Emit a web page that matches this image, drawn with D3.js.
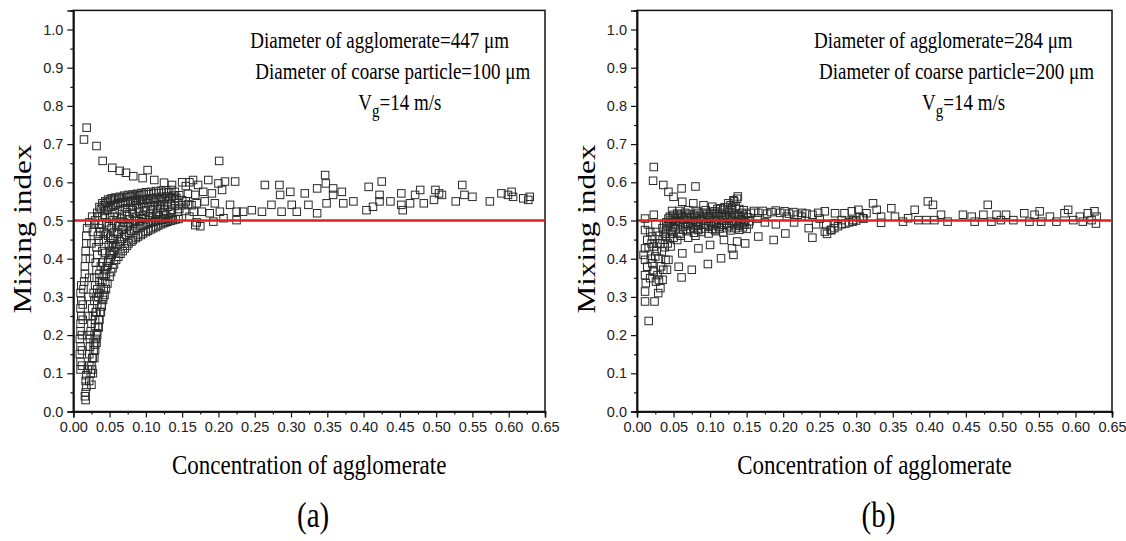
<!DOCTYPE html>
<html lang="en">
<head>
<meta charset="UTF-8">
<title>Mixing index vs concentration of agglomerate</title>
<script src="https://d3js.org/d3.v7.min.js"></script>
<style>
  body { margin: 0; background: #fff; }
</style>
</head>
<body>
<script>
// axis ticks
var xTicks = [0.00, 0.05, 0.10, 0.15, 0.20, 0.25, 0.30, 0.35, 0.40, 0.45, 0.50, 0.55, 0.60, 0.65]
var xMinor = [0.025, 0.075, 0.125, 0.175, 0.225, 0.275, 0.325, 0.375, 0.425, 0.475, 0.525, 0.575, 0.625]
var yTicks = [0.0, 0.1, 0.2, 0.3, 0.4, 0.5, 0.6, 0.7, 0.8, 0.9, 1.0]
var yMinor = [0.05, 0.15, 0.25, 0.35, 0.45, 0.55, 0.65, 0.75, 0.85, 0.95]

// ---- panel (a): [concentration, mixing index] ----
var aHigh = [[0.0184,0.743],[0.0147,0.712],[0.032,0.695],[0.0405,0.656],[0.0537,0.638],[0.064,0.630],[0.0726,0.625],
  [0.0826,0.616],[0.0955,0.611],[0.1024,0.632],[0.1116,0.606],[0.125,0.599],[0.136,0.593],[0.201,0.656]]

var aColumn = [[0.010,0.11],[0.010,0.13],[0.009,0.15],[0.010,0.17],[0.009,0.19],[0.010,0.21],[0.010,0.23],[0.011,0.25],
  [0.010,0.27],[0.011,0.29],[0.010,0.31],[0.011,0.33],[0.015,0.34],[0.016,0.36],[0.016,0.38],[0.017,0.40],[0.017,0.42],
  [0.018,0.44],[0.018,0.46],[0.019,0.48],[0.022,0.495],[0.026,0.51],[0.017,0.03],[0.016,0.04],[0.017,0.05],[0.018,0.065],
  [0.017,0.08],[0.018,0.095],[0.012,0.12],[0.012,0.16],[0.012,0.20],[0.013,0.24],[0.013,0.28],[0.014,0.32]]

var aSteep = [
  [0.020,0.11],[0.022,0.15],[0.023,0.19],[0.025,0.23],[0.026,0.27],[0.028,0.31],[0.029,0.35],[0.031,0.39],[0.032,0.43],[0.034,0.46],[0.035,0.49],
  [0.024,0.10],[0.026,0.14],[0.028,0.18],[0.030,0.22],[0.032,0.26],[0.034,0.30],[0.036,0.34],[0.038,0.38],[0.040,0.42],[0.042,0.45],
  [0.027,0.10],[0.029,0.14],[0.032,0.18],[0.035,0.22],[0.038,0.26],[0.041,0.30],[0.044,0.34],[0.047,0.38],[0.050,0.41],[0.053,0.435],
  [0.019,0.20],[0.020,0.25],[0.021,0.30],[0.022,0.35],[0.023,0.40],[0.025,0.44],[0.027,0.47],[0.029,0.49],
  [0.022,0.12],[0.023,0.17],[0.024,0.21],[0.027,0.25],[0.029,0.29],[0.030,0.33],[0.032,0.37],[0.033,0.41],[0.035,0.445],[0.037,0.47],
  [0.025,0.07],[0.026,0.11],[0.030,0.16],[0.033,0.20],[0.036,0.24],[0.039,0.28],[0.042,0.32],[0.045,0.36],[0.048,0.395],[0.051,0.42],[0.055,0.44]]

var aBand = [
  [0.030,0.50],[0.033,0.52],[0.036,0.535],[0.040,0.545],[0.044,0.55],[0.048,0.555],[0.053,0.558],[0.058,0.56],[0.064,0.562],[0.070,0.565],
  [0.076,0.567],[0.082,0.568],[0.088,0.57],[0.094,0.572],[0.100,0.574],[0.107,0.575],[0.114,0.577],[0.121,0.578],[0.128,0.579],[0.135,0.58],
  [0.036,0.48],[0.040,0.51],[0.044,0.525],[0.049,0.535],[0.055,0.54],[0.061,0.545],[0.068,0.548],[0.075,0.55],[0.082,0.552],[0.090,0.555],
  [0.098,0.556],[0.106,0.558],[0.114,0.56],[0.122,0.562],[0.130,0.563],[0.138,0.565],[0.146,0.566],
  [0.042,0.47],[0.046,0.495],[0.051,0.51],[0.057,0.52],[0.064,0.527],[0.071,0.532],[0.079,0.536],[0.087,0.54],[0.095,0.543],[0.103,0.545],
  [0.112,0.547],[0.121,0.549],[0.130,0.55],[0.140,0.552],[0.150,0.553],
  [0.048,0.46],[0.053,0.48],[0.059,0.495],[0.066,0.505],[0.074,0.512],[0.082,0.518],[0.091,0.523],[0.100,0.527],[0.110,0.53],[0.120,0.533],
  [0.130,0.536],[0.140,0.538],[0.150,0.54],[0.158,0.542],
  [0.055,0.45],[0.061,0.47],[0.068,0.483],[0.076,0.493],[0.085,0.5],[0.094,0.506],[0.104,0.511],[0.114,0.515],[0.124,0.518],[0.134,0.521],
  [0.144,0.523],[0.154,0.525],
  [0.034,0.51],[0.038,0.53],[0.042,0.54],[0.046,0.547],[0.051,0.552],[0.056,0.555],[0.062,0.557],[0.067,0.56],[0.073,0.561],[0.079,0.563],
  [0.085,0.565],[0.091,0.566],[0.097,0.568],[0.104,0.569],[0.111,0.571],[0.118,0.572],[0.125,0.573],[0.132,0.574],[0.140,0.575],
  [0.039,0.49],[0.043,0.515],[0.047,0.528],[0.052,0.536],[0.058,0.541],[0.065,0.545],[0.072,0.547],[0.079,0.55],[0.086,0.551],[0.094,0.553],
  [0.102,0.554],[0.110,0.555],[0.118,0.556],[0.126,0.557],[0.134,0.558],[0.142,0.559],
  [0.045,0.465],[0.049,0.485],[0.054,0.5],[0.060,0.51],[0.067,0.517],[0.074,0.522],[0.082,0.527],[0.090,0.531],[0.098,0.534],[0.107,0.537],
  [0.116,0.539],[0.125,0.541],[0.135,0.543],[0.145,0.545],
  [0.051,0.455],[0.056,0.47],[0.062,0.485],[0.070,0.495],[0.078,0.503],[0.087,0.51],[0.096,0.515],[0.106,0.52],[0.116,0.523],[0.126,0.526],
  [0.136,0.528],[0.146,0.53]]

var aLower = [
  [0.022,0.08],[0.025,0.12],[0.028,0.16],[0.031,0.19],[0.034,0.222],[0.037,0.26],[0.041,0.292],[0.045,0.32],[0.050,0.353],[0.054,0.375],
  [0.059,0.397],[0.065,0.413],[0.071,0.427],[0.076,0.44],[0.082,0.449],[0.089,0.458],[0.096,0.466],[0.103,0.473],[0.110,0.48],[0.117,0.487],
  [0.124,0.493],[0.130,0.497],[0.137,0.501],[0.145,0.504],
  [0.030,0.24],[0.033,0.28],[0.036,0.31],[0.040,0.34],[0.044,0.37],[0.048,0.39],[0.053,0.41],[0.058,0.43],[0.064,0.445],[0.070,0.458],
  [0.077,0.468],[0.084,0.477],[0.092,0.485],[0.100,0.49],[0.108,0.495],[0.117,0.5],[0.126,0.504],[0.135,0.507],
  [0.033,0.32],[0.036,0.36],[0.040,0.39],[0.044,0.415],[0.049,0.435],[0.055,0.452],[0.061,0.465],[0.068,0.476],[0.075,0.485],[0.083,0.492],
  [0.091,0.498],[0.100,0.503],[0.109,0.507],[0.118,0.51],[0.128,0.513],
  [0.027,0.14],[0.030,0.175],[0.032,0.205],[0.035,0.24],[0.039,0.275],[0.043,0.305],[0.047,0.335],[0.052,0.365],[0.056,0.385],[0.062,0.405],
  [0.068,0.42],[0.074,0.434],[0.080,0.445],[0.086,0.454],[0.093,0.462],[0.100,0.47],[0.107,0.477],[0.114,0.483],[0.121,0.49],[0.127,0.495],
  [0.134,0.499],[0.141,0.503],
  [0.031,0.26],[0.034,0.30],[0.038,0.325],[0.042,0.355],[0.046,0.38],[0.051,0.40],[0.056,0.42],[0.061,0.437],[0.067,0.452],[0.073,0.463],
  [0.080,0.473],[0.088,0.481],[0.096,0.488],[0.104,0.493],[0.113,0.498],[0.122,0.502],[0.131,0.505]]

var aTail = [
  [0.150,0.60],[0.155,0.59],[0.160,0.60],[0.158,0.57],[0.155,0.55],[0.163,0.54],[0.160,0.51],[0.170,0.495],[0.175,0.485],
  [0.165,0.606],[0.172,0.593],[0.186,0.606],[0.200,0.597],[0.209,0.602],[0.223,0.602],[0.168,0.567],[0.179,0.575],[0.191,0.571],
  [0.205,0.580],[0.170,0.545],[0.181,0.550],[0.195,0.545],[0.216,0.541],[0.166,0.523],[0.177,0.523],[0.188,0.519],[0.202,0.523],
  [0.225,0.523],[0.168,0.488],[0.193,0.497],[0.207,0.506],[0.225,0.501],[0.234,0.523],[0.246,0.527],[0.260,0.523],[0.264,0.593],
  [0.273,0.541],[0.284,0.593],[0.285,0.567],[0.287,0.523],[0.299,0.575],[0.301,0.541],[0.308,0.523],[0.319,0.571],[0.324,0.541],
  [0.336,0.584],[0.347,0.619],[0.348,0.597],[0.336,0.519],[0.349,0.545],[0.358,0.584],[0.358,0.567],[0.370,0.575],[0.372,0.545],
  [0.386,0.550],[0.404,0.527],[0.407,0.588],[0.413,0.536],[0.425,0.602],[0.422,0.567],[0.422,0.550],[0.437,0.550],[0.452,0.571],
  [0.452,0.541],[0.454,0.527],[0.464,0.545],[0.471,0.567],[0.478,0.580],[0.483,0.545],[0.497,0.554],[0.499,0.580],[0.504,0.571],
  [0.508,0.567],[0.527,0.550],[0.536,0.593],[0.539,0.567],[0.550,0.562],[0.574,0.550],[0.590,0.571],[0.599,0.567],[0.604,0.575],
  [0.606,0.562],[0.620,0.558],[0.629,0.562],[0.627,0.554]]

// ---- panel (b) ----
var bHigh = [[0.023,0.640],[0.022,0.604],[0.036,0.593],[0.043,0.575],[0.050,0.562],[0.061,0.584],[0.062,0.549],[0.080,0.589],
  [0.077,0.545],[0.091,0.540],[0.103,0.536],[0.114,0.532],[0.125,0.545],[0.138,0.563],[0.132,0.553],[0.130,0.527]]

var bLow = [[0.011,0.475],[0.014,0.449],[0.011,0.427],[0.009,0.41],[0.011,0.397],[0.014,0.379],[0.011,0.357],[0.012,0.336],
  [0.011,0.314],[0.011,0.288],[0.024,0.288],[0.016,0.237],[0.021,0.458],[0.023,0.432],[0.025,0.406],[0.021,0.388],[0.023,0.366],
  [0.018,0.349],[0.028,0.357],[0.032,0.323],[0.030,0.344],[0.036,0.371],[0.039,0.397],[0.034,0.419],[0.032,0.440],[0.039,0.458],
  [0.043,0.397],[0.046,0.432],[0.041,0.371],[0.057,0.379],[0.061,0.351],[0.062,0.414],[0.055,0.449],[0.075,0.371],[0.084,0.427],
  [0.097,0.386],[0.100,0.436],[0.115,0.401],[0.119,0.449],[0.132,0.410],[0.130,0.427],[0.137,0.445],[0.148,0.440],[0.166,0.458],
  [0.187,0.449],[0.203,0.466],[0.084,0.475],[0.107,0.475],[0.030,0.46],[0.035,0.45],[0.028,0.44],[0.045,0.455],[0.011,0.505],[0.023,0.515],
  [0.015,0.49],[0.018,0.47],[0.020,0.44],[0.026,0.47],[0.027,0.42],[0.030,0.40],[0.033,0.38],[0.016,0.43],[0.019,0.40],[0.022,0.37],
  [0.026,0.34],[0.029,0.31],[0.035,0.345],[0.038,0.43],[0.042,0.44],[0.046,0.465],[0.050,0.455],[0.060,0.46],[0.070,0.455],[0.080,0.46]]

var bBand = [
  [0.045,0.51],[0.050,0.515],[0.055,0.518],[0.060,0.515],[0.066,0.52],[0.072,0.517],[0.078,0.515],[0.084,0.52],[0.090,0.518],[0.096,0.515],
  [0.102,0.52],[0.108,0.517],[0.114,0.52],[0.120,0.515],[0.126,0.522],[0.132,0.518],[0.138,0.515],[0.144,0.52],[0.150,0.517],[0.156,0.52],
  [0.040,0.495],[0.046,0.50],[0.052,0.505],[0.058,0.498],[0.064,0.502],[0.070,0.505],[0.076,0.50],[0.082,0.497],[0.088,0.503],[0.094,0.50],
  [0.100,0.505],[0.106,0.498],[0.112,0.502],[0.118,0.50],[0.124,0.505],[0.130,0.50],[0.136,0.497],[0.142,0.503],[0.148,0.50],[0.154,0.498],
  [0.035,0.48],[0.042,0.485],[0.049,0.482],[0.056,0.488],[0.063,0.484],[0.070,0.487],[0.077,0.482],[0.084,0.486],[0.091,0.489],[0.098,0.484],
  [0.105,0.487],[0.112,0.483],[0.119,0.488],[0.126,0.485],[0.133,0.49],[0.140,0.486],[0.147,0.489],[0.153,0.49],
  [0.038,0.465],[0.048,0.47],[0.058,0.465],[0.068,0.472],[0.078,0.468],[0.088,0.47],[0.098,0.466],[0.108,0.472],[0.118,0.469],[0.128,0.474],
  [0.140,0.476],[0.150,0.478],[0.110,0.53],[0.120,0.535],[0.128,0.54],[0.133,0.55],[0.137,0.557],
  [0.043,0.505],[0.049,0.51],[0.053,0.50],[0.057,0.512],[0.062,0.508],[0.068,0.512],[0.074,0.508],[0.080,0.51],[0.086,0.512],[0.092,0.507],
  [0.098,0.511],[0.104,0.509],[0.110,0.512],[0.116,0.508],[0.122,0.511],[0.128,0.509],[0.134,0.512],[0.140,0.51],[0.146,0.512],[0.152,0.508],
  [0.037,0.49],[0.044,0.493],[0.051,0.49],[0.059,0.493],[0.066,0.49],[0.073,0.494],[0.080,0.49],[0.087,0.493],[0.094,0.49],[0.101,0.494],
  [0.109,0.49],[0.116,0.494],[0.123,0.491],[0.131,0.494],[0.139,0.491],[0.146,0.495],
  [0.040,0.475],[0.053,0.477],[0.063,0.476],[0.073,0.478],[0.083,0.477],[0.093,0.479],[0.103,0.478],[0.113,0.479],[0.123,0.48],[0.135,0.48],
  [0.145,0.482],
  [0.048,0.525],[0.058,0.525],[0.070,0.527],[0.082,0.525],[0.094,0.527],[0.106,0.524],[0.118,0.528],[0.124,0.53],[0.130,0.533],[0.135,0.538],
  [0.140,0.53],[0.146,0.527]]

var bTail = [
  [0.160,0.525],[0.166,0.52],[0.172,0.525],[0.178,0.518],[0.184,0.522],[0.190,0.526],[0.196,0.52],[0.202,0.524],[0.208,0.518],[0.214,0.522],
  [0.220,0.515],[0.226,0.52],[0.232,0.518],[0.240,0.515],[0.248,0.52],[0.165,0.505],[0.175,0.495],[0.190,0.49],[0.205,0.51],[0.215,0.495],
  [0.225,0.51],[0.235,0.48],[0.240,0.455],[0.245,0.49],[0.250,0.505],[0.260,0.465],[0.265,0.475],[0.270,0.48],[0.275,0.485],[0.280,0.49],
  [0.285,0.492],[0.290,0.495],[0.295,0.497],[0.300,0.50],[0.305,0.51],[0.310,0.505],
  [0.257,0.524],[0.259,0.488],[0.257,0.471],[0.266,0.475],[0.271,0.493],[0.271,0.519],[0.280,0.501],[0.284,0.519],[0.294,0.524],
  [0.296,0.501],[0.303,0.528],[0.309,0.506],[0.314,0.519],[0.323,0.545],[0.328,0.528],[0.334,0.510],[0.334,0.494],[0.348,0.532],
  [0.353,0.510],[0.364,0.497],[0.371,0.506],[0.380,0.528],[0.385,0.501],[0.398,0.550],[0.405,0.541],[0.396,0.501],[0.407,0.501],
  [0.416,0.515],[0.425,0.497],[0.446,0.515],[0.458,0.510],[0.462,0.497],[0.474,0.515],[0.480,0.541],[0.485,0.497],[0.492,0.515],
  [0.498,0.501],[0.505,0.515],[0.515,0.501],[0.530,0.519],[0.537,0.497],[0.544,0.515],[0.551,0.524],[0.553,0.497],[0.565,0.510],
  [0.574,0.497],[0.585,0.519],[0.590,0.528],[0.597,0.501],[0.606,0.510],[0.610,0.497],[0.617,0.519],[0.622,0.501],[0.626,0.524],
  [0.628,0.492],[0.629,0.510]]

var aPoints = aHigh.concat(aColumn, aSteep, aBand, aLower, aTail)
var bPoints = bHigh.concat(bLow, bBand, bTail)

var aText = ["Diameter of agglomerate=447 \u03bcm", "Diameter of coarse particle=100 \u03bcm"]
var bText = ["Diameter of agglomerate=284 \u03bcm", "Diameter of coarse particle=200 \u03bcm"]

var width = 1126, height = 541
var serif = "'Liberation Serif', 'Times New Roman', serif"
var sans = "'Liberation Sans', Arial, sans-serif"
var stretch = 1.2   // the figure is stretched vertically

var svg = d3.select("body").append("svg")
  .attr("width", width)
  .attr("height", height)
  .style("background", "#fff")

function drawPanel(left, right, points, info, tag) {
  var bottom = 411.5
  var x = d3.scaleLinear().domain([0, 0.65]).range([left, right])
  var y = d3.scaleLinear().domain([0, 1.05]).range([bottom, bottom - 1.05 * 382])
  var g = svg.append("g")

  // frame
  g.append("rect")
    .attr("x", left).attr("y", y(1.05))
    .attr("width", right - left).attr("height", bottom - y(1.05))
    .attr("fill", "none").attr("stroke", "#111").attr("stroke-width", 1.5)

  // hollow square markers
  g.append("g").selectAll("rect")
    .data(points)
    .enter().append("rect")
    .attr("x", d => x(d[0]) - 3.75)
    .attr("y", d => y(d[1]) - 3.75)
    .attr("width", 7.5)
    .attr("height", 7.5)
    .attr("fill", "none")
    .attr("stroke", "#2a2a2a")
    .attr("stroke-width", 1)

  // red reference line at 0.5
  g.append("line")
    .attr("x1", x(0)).attr("x2", x(0.65))
    .attr("y1", y(0.5)).attr("y2", y(0.5))
    .attr("stroke", "#e3201c").attr("stroke-width", 2.5)

  // axes
  g.append("g").attr("transform", "translate(0," + bottom + ")")
    .call(d3.axisBottom(x).tickValues(xTicks).tickSize(6).tickPadding(4).tickFormat(d3.format(".2f")))
  g.append("g").attr("transform", "translate(0," + bottom + ")")
    .call(d3.axisBottom(x).tickValues(xMinor).tickSize(3).tickFormat(""))
  g.append("g").attr("transform", "translate(" + left + ",0)")
    .call(d3.axisLeft(y).tickValues(yTicks).tickSize(6).tickPadding(4).tickFormat(d3.format(".1f")))
  g.append("g").attr("transform", "translate(" + left + ",0)")
    .call(d3.axisLeft(y).tickValues(yMinor).tickSize(3).tickFormat(""))

  g.selectAll(".domain").attr("stroke", "#111").attr("stroke-width", 1.5)
  g.selectAll(".tick line").attr("stroke", "#111").attr("stroke-width", 1.2)
  g.selectAll(".tick text").attr("font-family", sans).attr("font-size", 14.5).attr("fill", "#222")

  // info text
  var tx = left + 177
  g.append("text").attr("transform", "translate(" + tx + ",48) scale(1," + stretch + ")")
    .attr("font-family", serif).attr("font-size", 19).text(info[0])
  g.append("text").attr("transform", "translate(" + (tx + 5) + ",79) scale(1," + stretch + ")")
    .attr("font-family", serif).attr("font-size", 19).text(info[1])
  var vg = g.append("text").attr("transform", "translate(" + (tx + 108) + ",110) scale(1," + stretch + ")")
    .attr("font-family", serif).attr("font-size", 19)
  vg.append("tspan").text("V")
  vg.append("tspan").attr("dy", 6).attr("font-size", 15).text("g")
  vg.append("tspan").attr("dy", -6).text("=14 m/s")

  // axis titles
  var cx = (left + right) / 2
  g.append("text").attr("transform", "translate(" + cx + ",474) scale(1," + stretch + ")")
    .attr("text-anchor", "middle").attr("font-family", serif).attr("font-size", 23)
    .text("Concentration of agglomerate")
  g.append("text").attr("transform", "translate(" + (left - 42) + ",229) scale(1,1.25) rotate(-90)")
    .attr("text-anchor", "middle").attr("font-family", serif).attr("font-size", 25)
    .text("Mixing index")
  g.append("text").attr("transform", "translate(" + (cx + 4) + ",527) scale(1," + stretch + ")")
    .attr("text-anchor", "middle").attr("font-family", serif).attr("font-size", 29)
    .text("(" + tag + ")")
}

drawPanel(73.3, 545, aPoints, aText, "a")
drawPanel(637, 1112, bPoints, bText, "b")
</script>
</body>
</html>
